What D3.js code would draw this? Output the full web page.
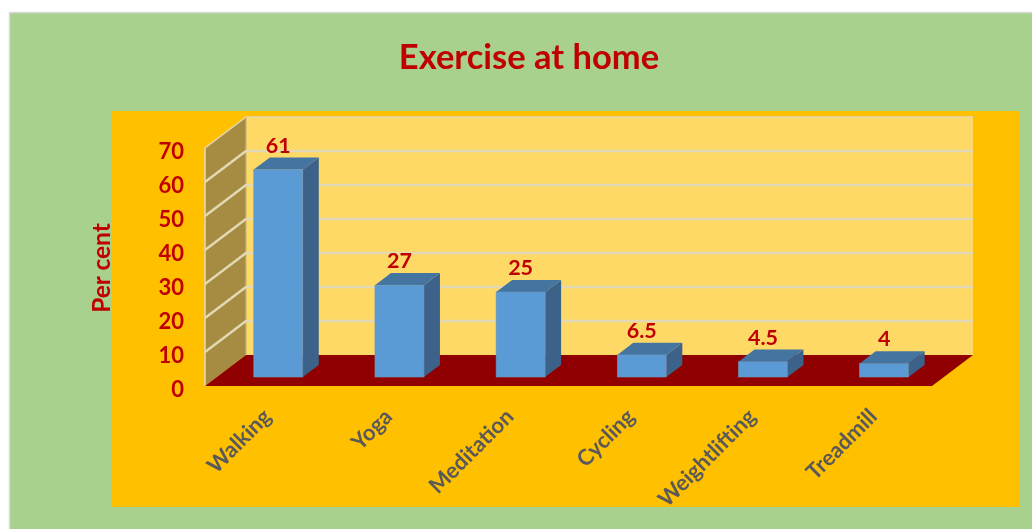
<!DOCTYPE html>
<html><head><meta charset="utf-8">
<script src="https://cdnjs.cloudflare.com/ajax/libs/d3/7.8.5/d3.min.js"></script>
<style>html,body{margin:0;padding:0;background:#fff;overflow:hidden}svg{display:block;filter:blur(0.45px)}
text{font-family:Lato,"Open Sans",sans-serif;font-weight:700}</style></head><body>
<svg id="c" width="1032" height="529"></svg>
<script>
const categories = ["Walking","Yoga","Meditation","Cycling","Weightlifting","Treadmill"];
const perCent = [61,27,25,6.5,4.5,4];
const valueLabels = ["61","27","25","6.5","4.5","4"];
const yTicks = [0,10,20,30,40,50,60,70];
const titleText = "Exercise at home";
const yTitle = "Per cent";

const svg = d3.select("#c");
const RED = "#c00000";
// chart and plot backgrounds
svg.append("rect").attr("x",9.5).attr("y",12.5).attr("width",1040).attr("height",540)
   .attr("fill","#a9d18e").attr("stroke","#d9d9d9").attr("stroke-width",1.5);
svg.append("rect").attr("x",111).attr("y",111).attr("width",908).attr("height",396).attr("fill","#ffc000");

// scales: front plane, plus a depth projection
const y = d3.scaleLinear().domain([0,70]).range([386,148]);
const x = d3.scaleBand().domain(categories).range([205,932]);
const dx = d3.scaleLinear().domain([0,1]).range([0,41]);
const dy = d3.scaleLinear().domain([0,1]).range([0,-31]);
const barW = 49, barD0 = 0.31, barD1 = 0.70;
const pt = (a,b)=>a.map(p=>p.join(",")).join(" ");
const X0 = x.range()[0], X1 = x.range()[1], Y0 = y(0), YT = y(70);

// back wall
svg.append("polygon").attr("fill","#ffd966")
  .attr("points",pt([[X0+dx(1),YT+dy(1)],[X1+dx(1),YT+dy(1)],[X1+dx(1),Y0+dy(1)],[X0+dx(1),Y0+dy(1)]]));
// side wall
svg.append("polygon").attr("fill","#a68c42")
  .attr("points",pt([[X0,YT],[X0+dx(1),YT+dy(1)],[X0+dx(1),Y0+dy(1)],[X0,Y0]]));
// wall edges
svg.append("polyline").attr("fill","none").attr("stroke","#e3d9b6").attr("stroke-width",1.5)
  .attr("points",pt([[X0,Y0],[X0,YT],[X0+dx(1),YT+dy(1)],[X1+dx(1),YT+dy(1)]]));
svg.append("line").attr("stroke","#c9b777").attr("stroke-width",1.2)
  .attr("x1",X0+dx(1)).attr("x2",X0+dx(1)).attr("y1",YT+dy(1)).attr("y2",Y0+dy(1));
// gridlines
const grid = svg.append("g").attr("fill","none").attr("stroke","#e3d9b6").attr("stroke-width",2.4);
yTicks.forEach(t=>{
  if(t>0 && t<70) grid.append("polyline").attr("points",pt([[X0,y(t)],[X0+dx(1),y(t)+dy(1)],[X1+dx(1),y(t)+dy(1)]]));
});
// floor
svg.append("polygon").attr("fill","#900000")
  .attr("points",pt([[X0,Y0],[X1,Y0],[X1+dx(1),Y0+dy(1)],[X0+dx(1),Y0+dy(1)]]));

// bars
const bars = svg.append("g").selectAll("g").data(categories).join("g");
const bx = c => x(c)+(x.bandwidth()-barW)/2+dx(barD0);
const by = v => y(v)+dy(0.29);
const ddx = dx(barD1-barD0), ddy = dy(barD1-barD0);
bars.append("polygon").attr("fill","#3c6289")
  .attr("points",(c,i)=>pt([[bx(c)+barW,by(perCent[i])],[bx(c)+barW+ddx,by(perCent[i])+ddy],[bx(c)+barW+ddx,by(0)+ddy],[bx(c)+barW,by(0)]]));
bars.append("polygon").attr("fill","#4475a1")
  .attr("points",(c,i)=>pt([[bx(c),by(perCent[i])],[bx(c)+ddx,by(perCent[i])+ddy],[bx(c)+barW+ddx,by(perCent[i])+ddy],[bx(c)+barW,by(perCent[i])]]));
bars.append("rect").attr("fill","#5b9bd5").attr("stroke","#6f93b3").attr("stroke-width",.6)
  .attr("x",c=>bx(c)).attr("width",barW)
  .attr("y",(c,i)=>by(perCent[i])).attr("height",(c,i)=>by(0)-by(perCent[i]));
// value labels
bars.append("text").attr("fill",RED).attr("font-size",21.5).attr("text-anchor","middle")
  .attr("x",c=>bx(c)+barW/2).attr("y",(c,i)=>by(perCent[i])+ddy-5)
  .text((c,i)=>valueLabels[i]);

// y axis
const yAxis = d3.axisLeft(y).tickValues(yTicks).tickSize(0).tickPadding(21);
const ga = svg.append("g").attr("transform",`translate(${X0},3)`).call(yAxis);
ga.select(".domain").remove();
ga.selectAll("text").attr("fill",RED).attr("font-size",22).style("font-family",'Lato,"Open Sans",sans-serif');

// category axis
const xAxis = d3.axisBottom(x).tickSize(0).tickPadding(0);
const gx = svg.append("g").attr("transform",`translate(0,${Y0})`).call(xAxis);
gx.select(".domain").remove();
gx.selectAll("text").attr("fill","#595959").attr("font-size",22).attr("text-anchor","end")
  .style("font-family",'Lato,"Open Sans",sans-serif')
  .attr("dy",0).attr("y",0)
  .attr("transform","translate(7,32) rotate(-45)");

// titles
svg.append("text").attr("x",529).attr("y",69).attr("text-anchor","middle").attr("fill",RED)
  .attr("font-size",34.5).text(titleText);
svg.append("text").attr("transform","translate(110,268) rotate(-90)").attr("text-anchor","middle").attr("fill",RED)
  .attr("font-size",24.5).text(yTitle);
</script></body></html>
